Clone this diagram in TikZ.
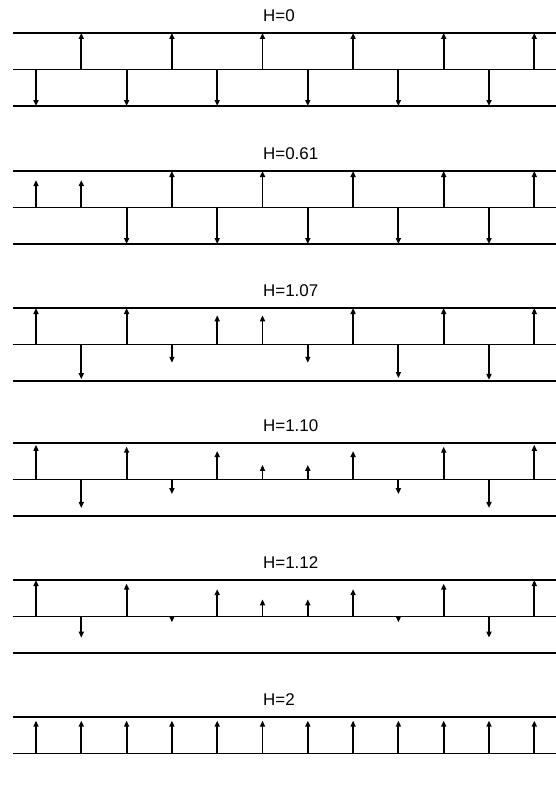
\documentclass[tikz,border=0pt]{standalone}
\usepackage{fontspec}
\setmainfont{Liberation Sans}
\usepackage{tikz}
\usetikzlibrary{arrows.meta}
\tikzset{
  level/.style={line width=1.1bp},
  spin/.style={-{Triangle[length=6bp,width=5bp]}, line width=1.9bp},
  htitle/.style={anchor=west, inner sep=0pt, font=\fontsize{17}{19}\selectfont},
}

\begin{document}
\begin{tikzpicture}[x=1bp, y=-1bp]
    \useasboundingbox (0,0) rectangle (556,789);
    % top line / field / bottom line? / spin lengths (units of the gap)
    \foreach \top/\field/\bot/\spins in {
        33/0/1/{-1,1,-1,1,-1,1,-1,1,-1,1,-1,1},
        171/0.61/1/{.75,.75,-1,1,-1,1,-1,1,-1,1,-1,1},
        308/1.07/1/{1,-.95,1,-.5,.8,.8,-.5,1,-.92,1,-.97,1},
        443/1.10/1/{.95,-.78,.9,-.4,.78,.4,.4,.78,-.4,.9,-.78,.95},
        580/1.12/1/{1,-.58,.9,-.16,.75,.47,.47,.75,-.16,.9,-.58,1},
        717/2/0/{.9,.9,.9,.9,.9,.9,.9,.9,.9,.9,.9,.9}}
    {
        \node[htitle] (t\top) at (263,\top-17.5) {H=\field};
        \draw[level] (13,\top) -- (556,\top);
        \draw[level] (13,\top+36.5) -- (556,\top+36.5);
        \ifnum\bot=1
            \draw[level] (13,\top+73) -- (556,\top+73);
        \fi
        \foreach \s [count=\i] in \spins
            \draw[spin] ({36+(\i-1)*45.3},\top+36.5) -- ++(0,{-(\s)*36.5});
    }
\end{tikzpicture}
\end{document}
